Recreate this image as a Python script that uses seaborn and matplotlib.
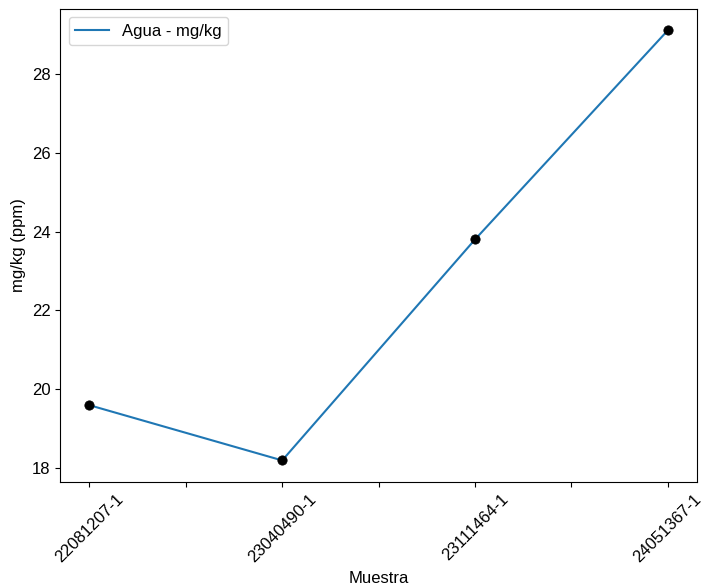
import numpy as np
import pandas as pd
import seaborn as sns
import matplotlib.pyplot as plt

muestras = ["22081207-1", "23040490-1", "23111464-1", "24051367-1"]
agua_mgkg = [19.6, 18.2, 23.8, 29.1]

plt.rcParams['font.family'] = ['Liberation Sans', 'DejaVu Sans']
plt.rcParams['font.size'] = 12

df = pd.DataFrame({"Muestra": muestras, "mg/kg": agua_mgkg})

fig, ax = plt.subplots(figsize=(7.11, 5.87), dpi=100)
sns.lineplot(data=df, x="Muestra", y="mg/kg", color="#1f77b4", label="Agua - mg/kg", ax=ax)
sns.scatterplot(data=df, x="Muestra", y="mg/kg", color="black", s=45, zorder=3,
                edgecolor="black", ax=ax, legend=False)

# ticks every half step, labels only on the samples
pos = np.arange(0, len(muestras) - 0.99, 0.5)
labels = [muestras[int(p)] if p == int(p) else "" for p in pos]
ax.set_xticks(pos)
ax.set_xticklabels(labels, rotation=45)
ax.set_xlabel("Muestra")
ax.set_ylabel("mg/kg (ppm)")
ax.legend(loc="upper left")

fig.subplots_adjust(left=0.085, right=0.980, top=0.985, bottom=0.179)
plt.savefig("out.png", dpi=100)
